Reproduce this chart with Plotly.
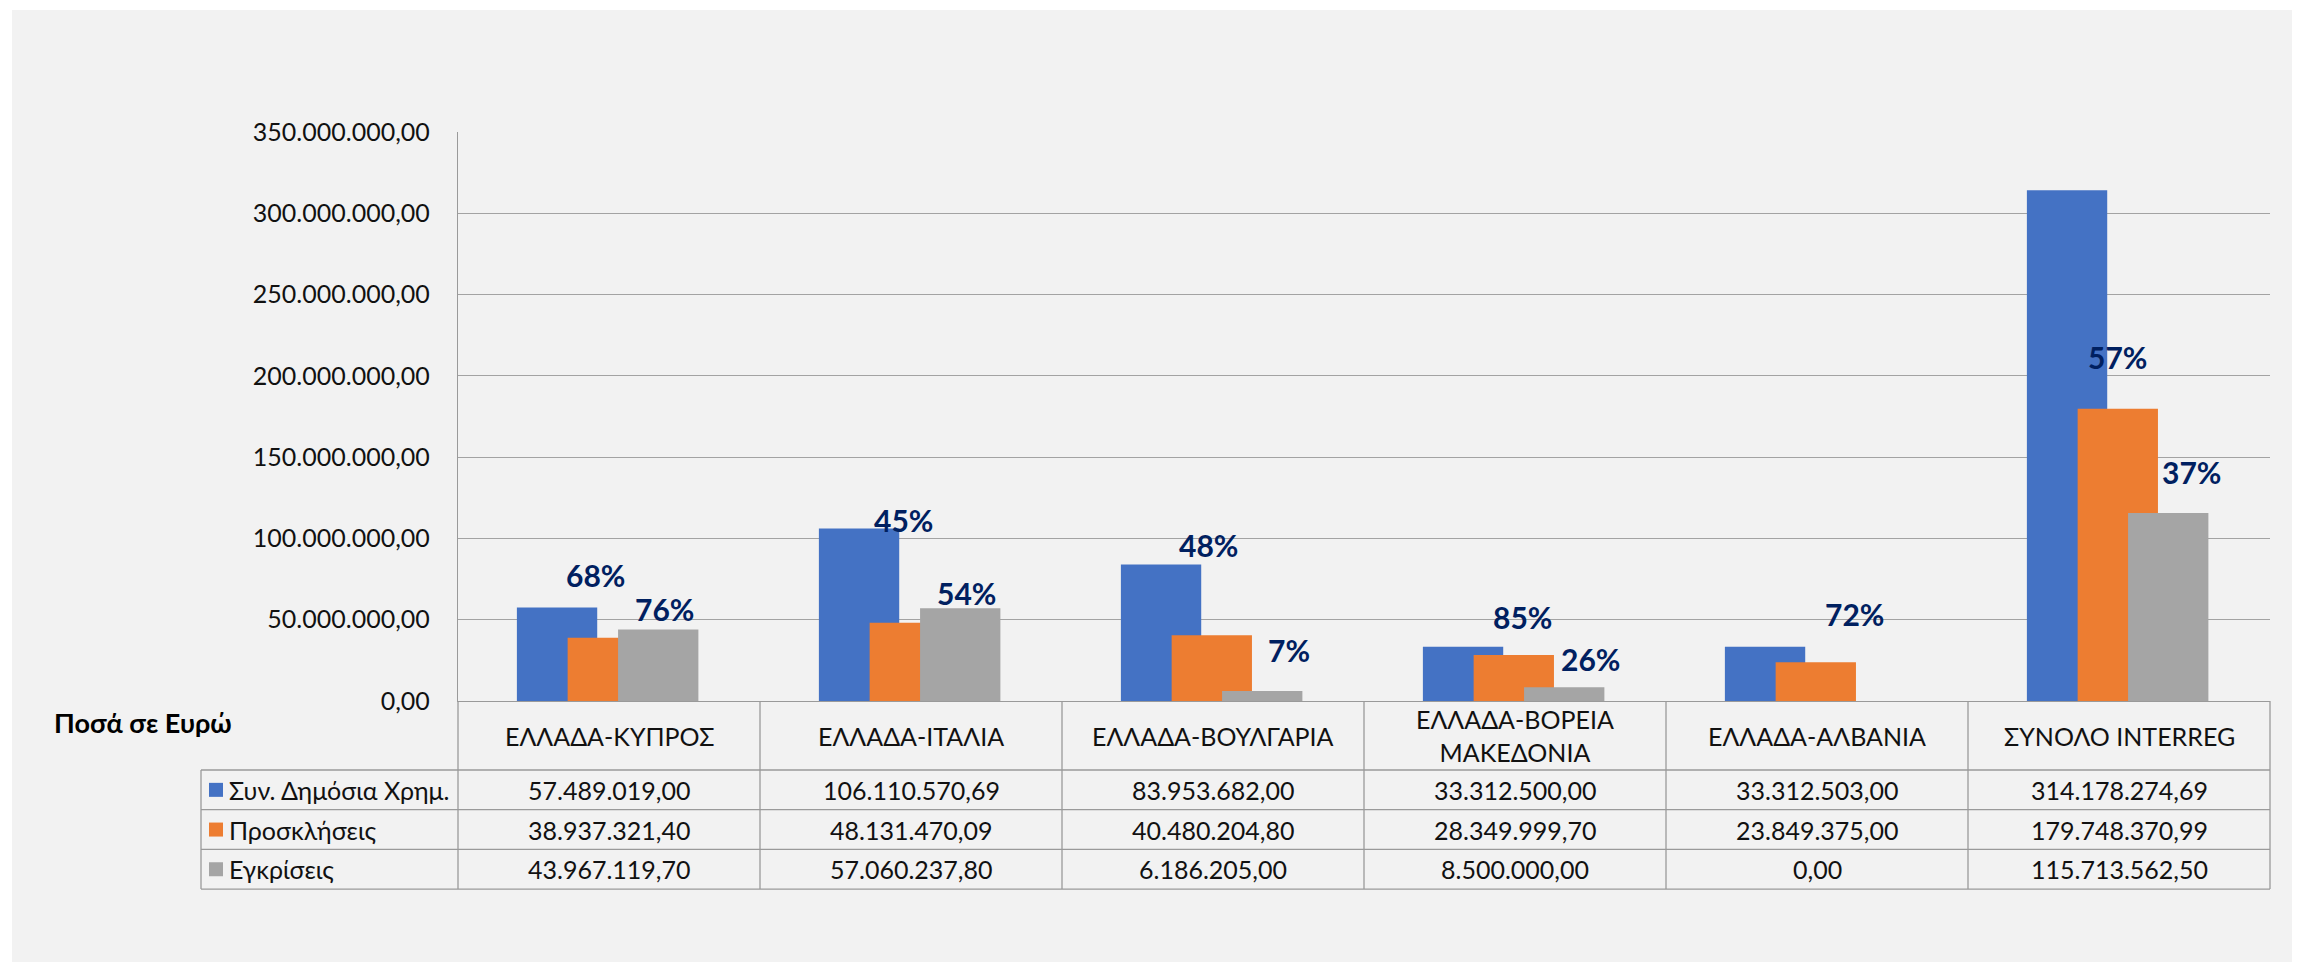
import plotly.graph_objects as go

# ---------------- data ----------------
categories = ["ΕΛΛΑΔΑ-ΚΥΠΡΟΣ", "ΕΛΛΑΔΑ-ΙΤΑΛΙΑ", "ΕΛΛΑΔΑ-ΒΟΥΛΓΑΡΙΑ",
              "ΕΛΛΑΔΑ-ΒΟΡΕΙΑ<br>ΜΑΚΕΔΟΝΙΑ", "ΕΛΛΑΔΑ-ΑΛΒΑΝΙΑ", "ΣΥΝΟΛΟ INTERREG"]
series_names = ["Συν. Δημόσια Χρημ.", "Προσκλήσεις", "Εγκρίσεις"]
public_funding = [57489019.00, 106110570.69, 83953682.00, 33312500.00, 33312503.00, 314178274.69]
calls = [38937321.40, 48131470.09, 40480204.80, 28349999.70, 23849375.00, 179748370.99]
approvals = [43967119.70, 57060237.80, 6186205.00, 8500000.00, 0.00, 115713562.50]
y_ticks = [0, 50e6, 100e6, 150e6, 200e6, 250e6, 300e6, 350e6]
y_title = "Ποσά σε Ευρώ"

# manual placement of the percentage labels (as in the original chart)
calls_label_y = [77.5e6, 111.3e6, 96.0e6, 51.7e6, 53.5e6, 211.6e6]
calls_label_dx = [-0.045, -0.025, -0.015, 0.025, 0.125, -0.005]
appr_label_y = [56.6e6, 66.4e6, 31.4e6, 25.8e6, None, 140.9e6]
appr_label_dx = [0.185, 0.185, 0.25, 0.25, 0.0, 0.24]

# ---------------- styling ----------------
colors = ["#4472C4", "#ED7D31", "#A5A5A5"]
FONT = "Lato, 'Noto Sans', sans-serif"
W, H = 2300, 970
S = 8  # page body margin of the html page
L, R, T, B = 458, 2270, 132, 701   # plot area in page pixels
GRID = "#a3a3a3"
TBL = "#9a9a9a"
TXT = "#111111"
FS = 25


def px_x(p):
    return (p - L) / (R - L)


def px_y(p):
    return (B - p) / (B - T)


def fmt(v):
    s = f"{v:,.2f}"
    return s.replace(",", "X").replace(".", ",").replace("X", ".")


fig = go.Figure()
bar_width = 0.266
offsets = [-0.305, -0.137, 0.03]
for name, vals, col, off in zip(series_names, [public_funding, calls, approvals], colors, offsets):
    fig.add_trace(go.Bar(
        x=list(range(len(categories))), y=vals, name=name,
        marker=dict(color=col, line=dict(width=0)),
        width=bar_width, offset=off, showlegend=False,
    ))

annotations = []
# percentage labels
for i in range(len(categories)):
    pct = round(calls[i] / public_funding[i] * 100)
    annotations.append(dict(x=i + calls_label_dx[i], y=calls_label_y[i], xref="x", yref="y",
                            text=f"<b>{pct}%</b>", showarrow=False,
                            font=dict(family=FONT, size=30, color="#002060"),
                            xanchor="center", yanchor="middle"))
    if approvals[i] > 0 and appr_label_y[i] is not None:
        pct2 = round(approvals[i] / public_funding[i] * 100)
        annotations.append(dict(x=i + appr_label_dx[i], y=appr_label_y[i], xref="x", yref="y",
                                text=f"<b>{pct2}%</b>", showarrow=False,
                                font=dict(family=FONT, size=30, color="#002060"),
                                xanchor="center", yanchor="middle"))

# ---------------- data table below the chart ----------------
n = len(categories)
col_w = (R - L) / n
header_bottom = 770
row_h = 39.7
legend_left = 201
rows_vals = [public_funding, calls, approvals]

shapes = []
# background panel
shapes.append(dict(type="rect", xref="paper", yref="paper", layer="below",
                   x0=px_x(12), x1=px_x(2300), y0=px_y(962), y1=px_y(10),
                   fillcolor="#f2f2f2", line=dict(width=0)))

table_bottom = header_bottom + 3 * row_h
for k in range(4):
    yy = header_bottom + k * row_h
    shapes.append(dict(type="line", xref="paper", yref="paper",
                       x0=px_x(legend_left), x1=px_x(R), y0=px_y(yy), y1=px_y(yy),
                       line=dict(color=TBL, width=1.3)))
shapes.append(dict(type="line", xref="paper", yref="paper",
                   x0=px_x(legend_left), x1=px_x(legend_left), y0=px_y(header_bottom), y1=px_y(table_bottom),
                   line=dict(color=TBL, width=1.3)))
for i in range(n + 1):
    xx = L + i * col_w
    shapes.append(dict(type="line", xref="paper", yref="paper",
                       x0=px_x(xx), x1=px_x(xx), y0=px_y(B), y1=px_y(table_bottom),
                       line=dict(color=TBL, width=1.3)))

# header labels
for i, c in enumerate(categories):
    annotations.append(dict(x=px_x(L + (i + 0.5) * col_w), y=px_y((B + header_bottom) / 2),
                            xref="paper", yref="paper", text=c, showarrow=False,
                            font=dict(family=FONT, size=FS, color=TXT),
                            xanchor="center", yanchor="middle", align="center"))

# rows
for r, (name, vals, col) in enumerate(zip(series_names, rows_vals, colors)):
    yc = header_bottom + (r + 0.5) * row_h
    shapes.append(dict(type="rect", xref="paper", yref="paper",
                       x0=px_x(209), x1=px_x(223), y0=px_y(yc + 7), y1=px_y(yc - 7),
                       fillcolor=col, line=dict(width=0)))
    annotations.append(dict(x=px_x(227), y=px_y(yc), xref="paper", yref="paper",
                            text=name, showarrow=False,
                            font=dict(family=FONT, size=FS, color=TXT),
                            xanchor="left", yanchor="middle"))
    for i, v in enumerate(vals):
        annotations.append(dict(x=px_x(L + (i + 0.5) * col_w), y=px_y(yc),
                                xref="paper", yref="paper", text=fmt(v), showarrow=False,
                                font=dict(family=FONT, size=FS, color=TXT),
                                xanchor="center", yanchor="middle"))

annotations.append(dict(x=px_x(52), y=px_y(722), xref="paper", yref="paper",
                        text=f"<b>{y_title}</b>", showarrow=False,
                        font=dict(family=FONT, size=27, color="#000000"),
                        xanchor="left", yanchor="middle"))

fig.update_layout(
    width=W, height=H,
    margin=dict(l=L - S, r=W - (R - S), t=T - S, b=H - (B - S), pad=0),
    paper_bgcolor="#ffffff", plot_bgcolor="#f2f2f2",
    barmode="overlay", separators=",.",
    font=dict(family=FONT, size=FS, color=TXT),
    xaxis=dict(range=[-0.5, n - 0.5], showticklabels=False, showgrid=False,
               zeroline=False, showline=True, linecolor=TBL, linewidth=1.3, ticks=""),
    yaxis=dict(range=[0, 350e6], tickvals=y_ticks, tickformat=",.2f",
               showgrid=True, gridcolor=GRID, gridwidth=1.3, zeroline=False,
               showline=True, linecolor=TBL, linewidth=1.3, ticks="",
               ticklabelstandoff=22, tickfont=dict(family=FONT, size=FS, color=TXT)),
    shapes=shapes, annotations=annotations,
)

fig.write_html("out.html")
